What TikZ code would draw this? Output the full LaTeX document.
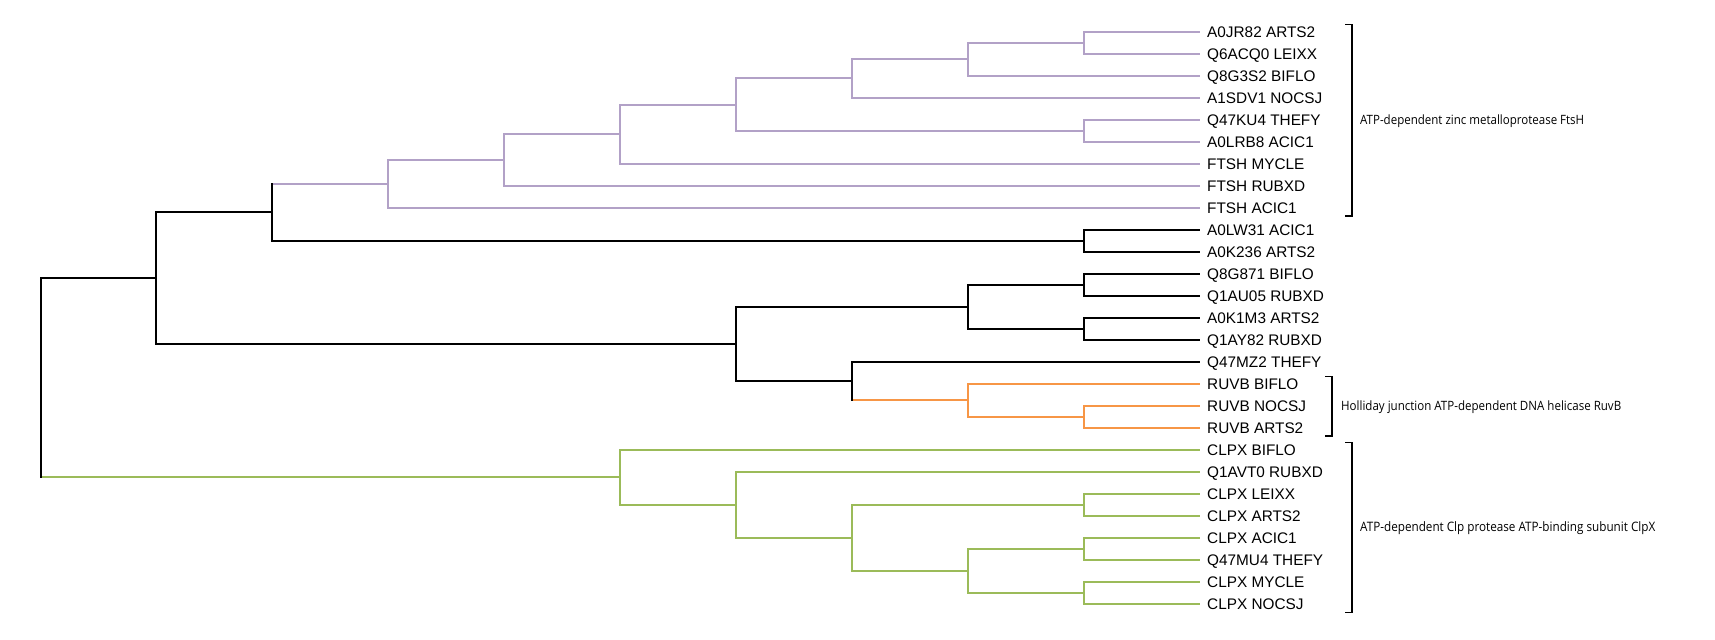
\documentclass[tikz,border=0pt]{standalone}
\usepackage{fontspec}
\usepackage{graphicx}
\setmainfont{Liberation Sans}
\newfontfamily\annfont{Open Sans}
\definecolor{ftshc}{HTML}{B2A1C7}
\definecolor{ruvbc}{HTML}{F79646}
\definecolor{clpxc}{HTML}{9BBB59}
\newcommand\Clade[4][black]{%
  \draw[edge,#1] (#2 |- #3) -- (#3) (#2 |- #4) -- (#4);
  \draw[vedge,#1] (#2 |- #3) -- (#2 |- #4);}
\newcommand\AnnText[2]{\resizebox{#1}{!}{\scalebox{0.9}[1]{#2}}}
\begin{document}
\begin{tikzpicture}[x=1bp,y=-1bp,
  edge/.style={line width=2bp},
  vedge/.style={line width=2bp,line cap=rect},
  leaflab/.style={anchor=base west,inner sep=0pt,font=\fontsize{15.4}{18}\selectfont},
  annot/.style={anchor=base west,inner sep=0pt,font=\fontsize{12.5}{15}\annfont},
  brk/.style={line width=1.2bp}]
\useasboundingbox (0,0) rectangle (1715,640);
% leaves
\foreach \i/\t in {0/A0JR82 ARTS2,1/Q6ACQ0 LEIXX,2/Q8G3S2 BIFLO,3/A1SDV1 NOCSJ,
  4/Q47KU4 THEFY,5/A0LRB8 ACIC1,6/FTSH MYCLE,7/FTSH RUBXD,8/FTSH ACIC1,
  9/A0LW31 ACIC1,10/A0K236 ARTS2,11/Q8G871 BIFLO,12/Q1AU05 RUBXD,
  13/A0K1M3 ARTS2,14/Q1AY82 RUBXD,15/Q47MZ2 THEFY,16/RUVB BIFLO,
  17/RUVB NOCSJ,18/RUVB ARTS2,19/CLPX BIFLO,20/Q1AVT0 RUBXD,21/CLPX LEIXX,
  22/CLPX ARTS2,23/CLPX ACIC1,24/Q47MU4 THEFY,25/CLPX MYCLE,26/CLPX NOCSJ}{
  \coordinate (l\i) at (1199.5,{31.7+22*\i});
  \node[leaflab] (t\i) at (1207,{37.5+22*\i}) {\t};
}
% internal nodes
\coordinate (n1) at (1083.6,42.7);
\coordinate (n2) at (967.7,59.2);
\coordinate (n3) at (851.8,78.45);
\coordinate (n4) at (1083.6,130.7);
\coordinate (n5) at (735.9,104.575);
\coordinate (n6) at (620,134.14);
\coordinate (n7) at (504.1,159.92);
\coordinate (n8) at (388.2,183.81);
\coordinate (n9) at (1083.6,240.7);
\coordinate (n10) at (272.3,212.25);
\coordinate (n11) at (1083.6,284.7);
\coordinate (n12) at (1083.6,328.7);
\coordinate (n13) at (967.7,306.7);
\coordinate (n14) at (1083.6,416.7);
\coordinate (n15) at (967.7,400.2);
\coordinate (n16) at (851.8,380.95);
\coordinate (n17) at (735.9,343.83);
\coordinate (n18) at (156.4,278.04);
\coordinate (g1) at (1083.6,504.7);
\coordinate (g2) at (1083.6,548.7);
\coordinate (g3) at (1083.6,592.7);
\coordinate (g4) at (967.7,570.7);
\coordinate (g5) at (851.8,537.7);
\coordinate (g6) at (735.9,504.7);
\coordinate (g7) at (620,477.2);
\coordinate (root) at (40.5,377.6);
% FtsH clade
\Clade[ftshc]{n1}{l0}{l1}
\Clade[ftshc]{n2}{n1}{l2}
\Clade[ftshc]{n3}{n2}{l3}
\Clade[ftshc]{n4}{l4}{l5}
\Clade[ftshc]{n5}{n3}{n4}
\Clade[ftshc]{n6}{n5}{l6}
\Clade[ftshc]{n7}{n6}{l7}
\Clade[ftshc]{n8}{n7}{l8}
% black
\Clade{n9}{l9}{l10}
\draw[edge,ftshc] (n10 |- n8) -- (n8);
\draw[edge] (n10 |- n9) -- (n9);
\draw[vedge] (n10 |- n8) -- (n10 |- n9);
\Clade{n11}{l11}{l12}
\Clade{n12}{l13}{l14}
\Clade{n13}{n11}{n12}
% RuvB
\Clade[ruvbc]{n14}{l17}{l18}
\Clade[ruvbc]{n15}{l16}{n14}
\draw[edge] (n16 |- l15) -- (l15);
\draw[edge,ruvbc] (n16 |- n15) -- (n15);
\draw[vedge] (n16 |- l15) -- (n16 |- n15);
\Clade{n17}{n13}{n16}
\Clade{n18}{n10}{n17}
% ClpX
\Clade[clpxc]{g1}{l21}{l22}
\Clade[clpxc]{g2}{l23}{l24}
\Clade[clpxc]{g3}{l25}{l26}
\Clade[clpxc]{g4}{g2}{g3}
\Clade[clpxc]{g5}{g1}{g4}
\Clade[clpxc]{g6}{l20}{g5}
\Clade[clpxc]{g7}{l19}{g6}
% root
\draw[edge] (root |- n18) -- (n18);
\draw[edge,clpxc] (root |- g7) -- (g7);
\draw[vedge] (root |- n18) -- (root |- g7);
% brackets
\coordinate (fA) at (1352,24.3); \coordinate (fB) at (1352,216);
\coordinate (rA) at (1332,376.7); \coordinate (rB) at (1332,436);
\coordinate (cA) at (1352,442.7); \coordinate (cB) at (1352,612.3);
\draw[brk] ([xshift=-7bp]fA) -- (fA) -- (fB) -- ([xshift=-7bp]fB);
\draw[brk] ([xshift=-7bp]rA) -- (rA) -- (rB) -- ([xshift=-7bp]rB);
\draw[brk] ([xshift=-7bp]cA) -- (cA) -- (cB) -- ([xshift=-7bp]cB);
\node[annot] (fL) at (1360,124.7) {\AnnText{224bp}{ATP-dependent zinc metalloprotease FtsH}};
\node[annot] (rL) at (1341,410.7) {\AnnText{280bp}{Holliday junction ATP-dependent DNA helicase RuvB}};
\node[annot] (cL) at (1360,531.9) {\AnnText{295bp}{ATP-dependent Clp protease ATP-binding subunit ClpX}};
\end{tikzpicture}
\end{document}
